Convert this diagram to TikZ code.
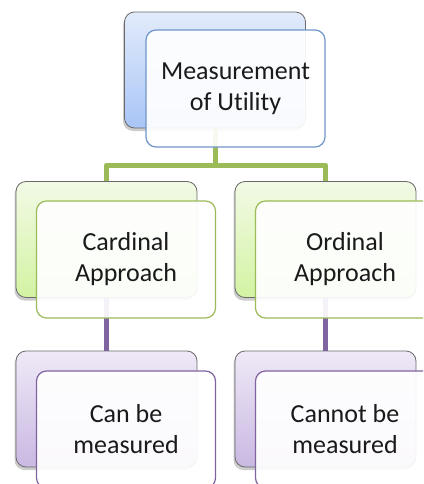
\documentclass[tikz,border=0pt]{standalone}
\usepackage{fontspec}
\setmainfont{Carlito}[Ligatures={NoCommon,NoRare}]
\usetikzlibrary{shadows}
\definecolor{blueTop}{HTML}{E2EBFB}
\definecolor{blueBot}{HTML}{A9C5F6}
\definecolor{blueLine}{HTML}{6F96C8}
\definecolor{greenTop}{HTML}{F2FAE6}
\definecolor{greenBot}{HTML}{D3F3A2}
\definecolor{greenLine}{HTML}{9BBB59}
\definecolor{purpTop}{HTML}{EFE9F7}
\definecolor{purpBot}{HTML}{C9B8E2}
\definecolor{purpLine}{HTML}{8064A2}
\definecolor{backLine}{HTML}{6A6A6A}
\definecolor{txt}{HTML}{1A1A1A}
\tikzset{
  backbox/.style={rectangle, rounded corners=10pt, draw=backLine, line width=0.8pt,
    minimum width=181pt, minimum height=116pt,
    drop shadow={shadow xshift=-1.5pt, shadow yshift=-3pt, opacity=0.4}},
  frontbox/.style={rectangle, rounded corners=10pt, line width=1.2pt,
    minimum width=179pt, minimum height=117pt, fill=white, fill opacity=0.92,
    text opacity=1, align=center, text=txt,
    font=\fontsize{26}{31}\selectfont},
  greenline/.style={draw=greenLine, line width=5pt, line join=round},
  purpline/.style={draw=purpLine, line width=5pt},
}
\begin{document}
\begin{tikzpicture}[x=1pt,y=-1pt]
\useasboundingbox (0,0) rectangle (423,484);
\clip (0,0) rectangle (423,484);
% back boxes
\node[backbox, top color=blueTop, bottom color=blueBot] (topB) at (215,70) {};
\node[backbox, top color=greenTop, bottom color=greenBot] (cardB) at (106.5,239.5) {};
\node[backbox, top color=greenTop, bottom color=greenBot] (ordB) at (325.5,239.5) {};
\node[backbox, top color=purpTop, bottom color=purpBot] (canB) at (106.5,409) {};
\node[backbox, top color=purpTop, bottom color=purpBot] (cantB) at (325.5,409) {};
% connectors
\coordinate (j) at (215,165);
\draw[greenline] (topB.south) -- (j) -| (cardB.north);
\draw[greenline] (j) -| (ordB.north);
\draw[purpline] (cardB.south) -- (canB.north);
\draw[purpline] (ordB.south) -- (cantB.north);
% front boxes
\node[frontbox, draw=blueLine] (topF) at (235.5,88.5) {Measurement\\of Utility};
\node[frontbox, draw=greenLine] (cardF) at (126,259.5) {Cardinal\\Approach};
\node[frontbox, draw=greenLine] (ordF) at (345,259.5) {Ordinal\\Approach};
\node[frontbox, draw=purpLine] (canF) at (126,429.5) {Can be\\measured};
\node[frontbox, draw=purpLine] (cantF) at (345,429.5) {Cannot be\\measured};
\end{tikzpicture}
\end{document}
